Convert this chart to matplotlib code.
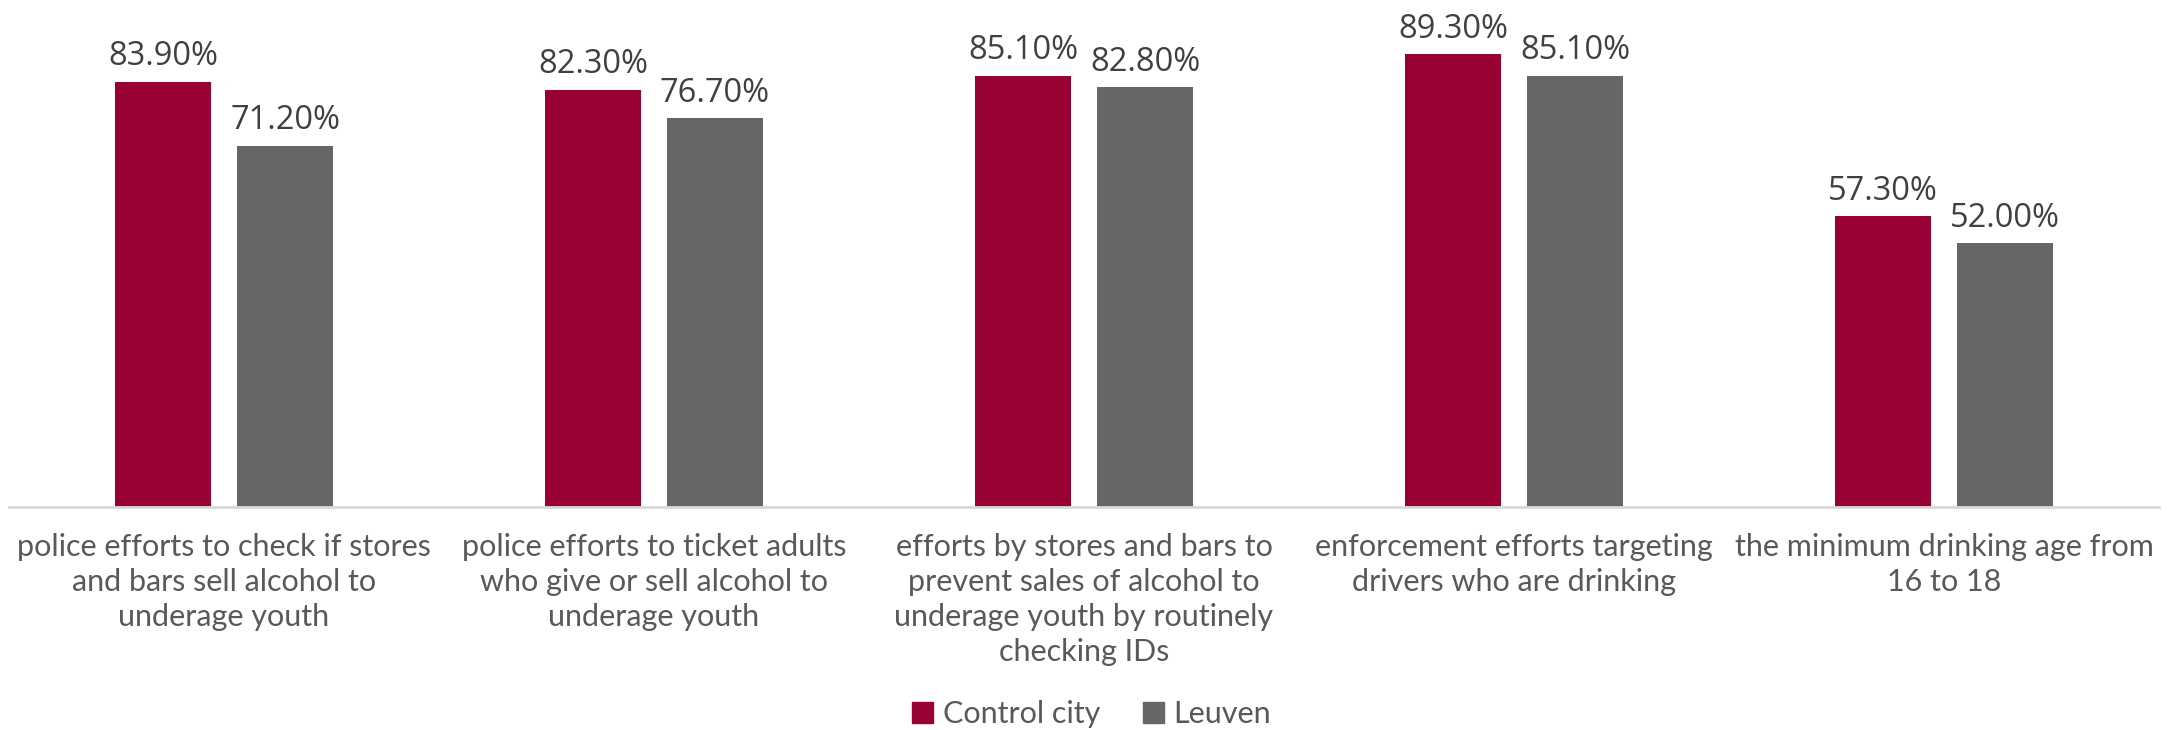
import numpy as np
import matplotlib
matplotlib.use("Agg")
from matplotlib import pyplot as plt
from matplotlib.patches import Patch

categories = [
    "police efforts to check if stores\nand bars sell alcohol to\nunderage youth",
    "police efforts to ticket adults\nwho give or sell alcohol to\nunderage youth",
    "efforts by stores and bars to\nprevent sales of alcohol to\nunderage youth by routinely\nchecking IDs",
    "enforcement efforts targeting\ndrivers who are drinking",
    "the minimum drinking age from\n16 to 18",
]
control_city = [83.9, 82.3, 85.1, 89.3, 57.3]
leuven = [71.2, 76.7, 82.8, 85.1, 52.0]
series_names = ["Control city", "Leuven"]

red = "#990033"
grey = "#666666"
lab_font = ["Lato", "DejaVu Sans"]

fig = plt.figure(figsize=(21.83, 7.3), dpi=100)
ax = fig.add_axes([9/2183, 223/730, 2150/2183, 507/730])

x = np.arange(len(categories))
w = 0.224
off = 0.142
b1 = ax.bar(x - off, control_city, w, color=red)
b2 = ax.bar(x + off, leuven, w, color=grey)

for bars, vals in ((b1, control_city), (b2, leuven)):
    for r, v in zip(bars, vals):
        ax.text(r.get_x() + r.get_width()/2, v + 1.7, "%.2f%%" % v,
                ha="center", va="bottom", fontsize=23.5,
                family=["Open Sans", "DejaVu Sans"], color="#404040")

ax.set_xlim(-0.5, len(categories) - 0.5)
ax.set_ylim(0, 100)
for s in ["top", "right", "left"]:
    ax.spines[s].set_visible(False)
ax.spines["bottom"].set_color("#d9d9d9")
ax.spines["bottom"].set_linewidth(2)
ax.set_yticks([])
ax.set_xticks(x)
ax.set_xticklabels(categories, fontsize=22, color="#595959",
                   family=lab_font, linespacing=1.3)
ax.tick_params(axis="x", length=0, pad=19)

handles = [Patch(color=red), Patch(color=grey)]
fig.legend(handles, series_names, loc="center", bbox_to_anchor=(0.5, 16/730),
           ncol=2, frameon=False, handlelength=0.7, handleheight=0.7,
           handletextpad=0.3, columnspacing=1.4,
           prop={"family": lab_font, "size": 22},
           labelcolor="#595959")

fig.savefig("out.png", dpi=100)
